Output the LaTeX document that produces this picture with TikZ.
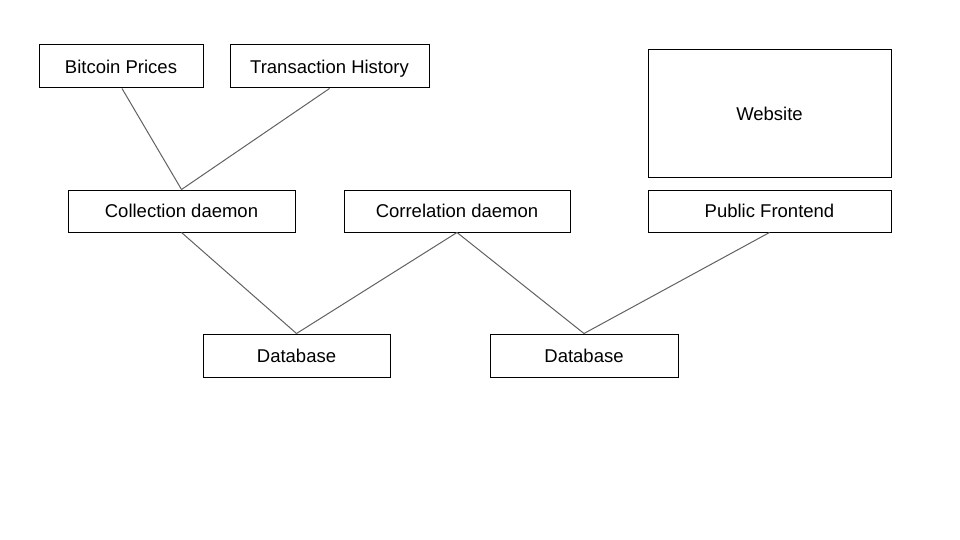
\documentclass[tikz,border=0pt]{standalone}
\usepackage{fontspec}
\setmainfont{Liberation Sans}
\begin{document}
\begin{tikzpicture}[x=1pt,y=-1pt,
  box/.style={draw=black,line width=1pt,inner sep=0pt,text height=13.2pt,text depth=0pt,font=\fontsize{18.5}{22}\selectfont},
  link/.style={draw=black!62,line width=1pt}]
\useasboundingbox (0,0) rectangle (960,540);
\node[box,minimum width=164pt,minimum height=43pt] (btc) at (121,66.5) {Bitcoin Prices};
\node[box,minimum width=199pt,minimum height=43pt] (tx) at (329.5,66.5) {Transaction History};
\node[box,minimum width=243pt,minimum height=128pt] (web) at (769.5,114) {Website};
\node[box,minimum width=227pt,minimum height=42pt] (coll) at (181.5,211) {Collection daemon};
\node[box,minimum width=226pt,minimum height=42pt] (corr) at (457,211) {Correlation daemon};
\node[box,minimum width=243pt,minimum height=42pt] (pub) at (769.5,211) {Public Frontend};
\node[box,minimum width=187pt,minimum height=43pt] (db1) at (296.5,355.5) {Database};
\node[box,minimum width=188pt,minimum height=43pt] (db2) at (584,355.5) {Database};
\draw[link] ([xshift=1pt]btc.south) -- (coll.north);
\draw[link] (tx.south) -- (coll.north);
\draw[link] (coll.south) -- (db1.north);
\draw[link] (corr.south) -- (db1.north);
\draw[link] (corr.south) -- (db2.north);
\draw[link] (pub.south) -- (db2.north);
\end{tikzpicture}
\end{document}
